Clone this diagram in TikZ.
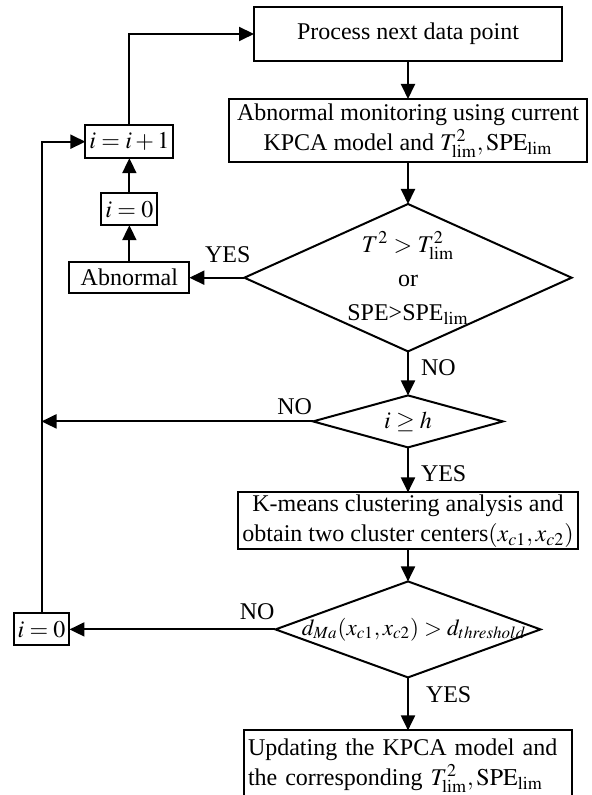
\documentclass[tikz,border=0pt]{standalone}
\usepackage{mathptmx}
\usepackage{fontspec}
\setmainfont{Liberation Serif}
\usetikzlibrary{shapes.geometric}
\usetikzlibrary{positioning}
\usetikzlibrary{arrows.meta}

\begin{document}
\begin{tikzpicture}
	[
		myblock/.style = {draw, rectangle, line width = 1pt, inner sep = 2pt, outer sep = 0pt, align = center},
		mydecision/.style = {draw, diamond, line width = 1pt, inner sep = 0pt, outer sep = 0pt, align = center},
		mylabel/.style = {inner sep = 0pt},
		myarrow/.style = {line width = 1pt, -{Triangle[length = 7.5pt, width = 7pt]}},
		font = \fontsize{12pt}{15pt}\selectfont
	]
	\useasboundingbox (-204pt, 17pt) rectangle (92pt, -380.5pt);
	%
	\node (process) [myblock, minimum width = 154pt, minimum height = 27pt] {Process next data point};
	%
	\node (monitor) [myblock, minimum width = 179pt, minimum height = 31.5pt, below = 19pt of process] {Abnormal monitoring using current\\KPCA model and $T_{\mathrm{lim}}^{2},\mathrm{SPE}_{\mathrm{lim}}$};
	\draw [myarrow] (process) -- (monitor);
	%
	\node (test) [mydecision, aspect = 2.22, minimum width = 160pt, minimum height = 72pt, below = 21pt of monitor] {$T^{2}>T_{\mathrm{lim}}^{2}$\\[2pt]or\\[2pt]SPE>SPE$_{\mathrm{lim}}$};
	\draw [myarrow] (monitor) -- (test);
	%
	\node (abnormal) [myblock, minimum width = 60pt, minimum height = 15.5pt, left = 27.5pt of test] {Abnormal};
	\draw [myarrow] (test) -- (abnormal) node [mylabel, pos = 0, anchor = south east, xshift = 3.5pt, yshift = 7pt] {YES};
	%
	\node (reset1) [myblock, minimum width = 28pt, minimum height = 16pt, above = 18.5pt of abnormal] {$i=0$};
	\draw [myarrow] (abnormal) -- (reset1);
	%
	\node (incr) [myblock, minimum width = 40pt, minimum height = 16.5pt, above = 17.5pt of reset1] {$i=i+1$};
	\draw [myarrow] (reset1) -- (incr);
	\draw [myarrow] (incr) |- (process);
	%
	\node (count) [mydecision, aspect = 3.65, minimum width = 95pt, minimum height = 26pt, below = 22pt of test] {$i\geq h$};
	\draw [myarrow] (test) -- (count) node [mylabel, pos = 0.38, right = 6pt] {NO};
	%
	\node (kmeans) [myblock, inner ysep = 0.5pt, minimum width = 165.5pt, minimum height = 28.5pt, below = 22.5pt of count] {K-means clustering analysis and\\obtain two cluster centers$(x_{c1},x_{c2})$};
	\draw [myarrow] (count) -- (kmeans) node [mylabel, pos = 0.58, right = 6pt] {YES};
	%
	\node (dist) [mydecision, aspect = 2.76, minimum width = 132.5pt, minimum height = 48pt, below = 16pt of kmeans] {\makebox[0pt]{\hspace{6pt}\fontsize{11.5pt}{14pt}\selectfont$d_{Ma}(x_{c1},x_{c2})>d_{threshold}$}};
	\draw [myarrow] (kmeans) -- (dist);
	%
	\node (reset2) [myblock, minimum width = 27pt, minimum height = 16pt, left = 103pt of dist] {$i=0$};
	\draw [myarrow] (dist) -- (reset2) node [mylabel, pos = 0, anchor = south east, yshift = 4.5pt] {NO};
	\draw [myarrow] (reset2) |- (incr);
	\draw [myarrow] (count) -- (count -| reset2) node [mylabel, pos = 0, anchor = south east, yshift = 3pt] {NO};
	%
	\node (update) [myblock, text width = 160pt, align = left, inner ysep = 1pt, minimum height = 35pt, below = 26.5pt of dist] {Updating the KPCA model and\\the corresponding $T_{\mathrm{lim}}^{2},\mathrm{SPE}_{\mathrm{lim}}$};
	\draw [myarrow] (dist) -- (update) node [mylabel, pos = 0.32, right = 8.5pt] {YES};
	%
\end{tikzpicture}
\end{document}
